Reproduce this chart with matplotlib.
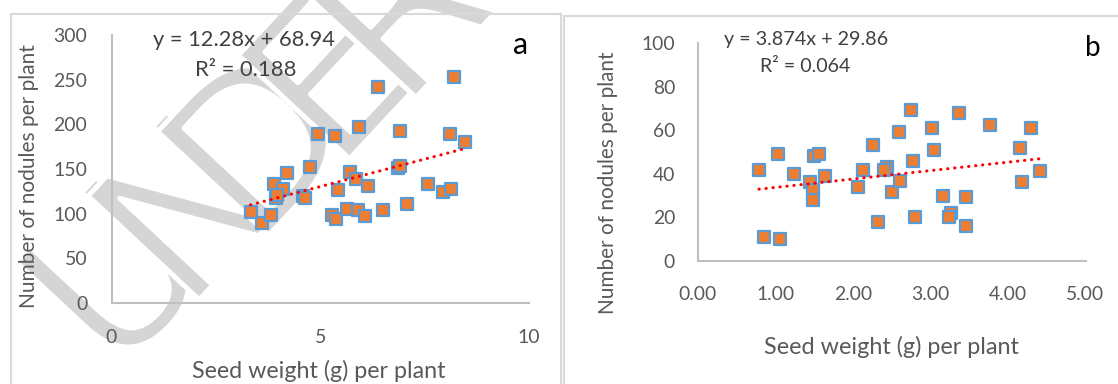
import matplotlib
matplotlib.use("Agg")
import matplotlib.pyplot as plt
from matplotlib.patches import Rectangle
import matplotlib.patheffects as pe
import numpy as np

# Panel a: seed weight vs nodules
a_seed = [8.20, 6.38, 4.94, 5.36, 5.92, 6.92, 8.10, 8.46, 4.21, 4.75, 3.90, 4.10,
          3.93, 4.59, 5.71, 5.86, 5.42, 6.15, 6.87, 7.57, 7.95, 8.12, 3.33, 3.61,
          3.82, 5.27, 5.38, 5.63, 5.90, 6.07, 6.51, 7.08, 6.90, 4.63, 3.96]
a_nod = [253, 242, 189, 187, 197, 193, 189, 180, 146, 152, 133, 128,
         118, 120, 147, 139, 127, 131, 151, 133, 124, 128, 102, 90,
         99, 99, 94, 105, 104, 97, 104, 111, 153, 117, 121]
a_slope, a_icept, a_r2 = 12.28, 68.94, 0.188

# Panel b: seed weight vs nodules
b_seed = [0.79, 1.03, 0.86, 1.06, 1.24, 1.50, 1.56, 1.45, 1.49, 1.49, 1.64, 2.13,
          2.07, 2.26, 2.33, 2.44, 2.40, 2.50, 2.61, 2.59, 2.77, 2.75, 2.80, 3.02,
          3.05, 3.16, 3.27, 3.24, 3.37, 3.46, 3.46, 3.77, 4.15, 4.18, 4.30, 4.41]
b_nod = [41.9, 49.2, 11.1, 10.2, 40.0, 48.3, 49.2, 36.3, 32.6, 28.0, 39.2, 41.9,
         34.1, 53.1, 18.0, 43.1, 41.9, 31.8, 36.9, 59.1, 46.1, 69.2, 20.0, 61.1,
         51.1, 29.9, 21.9, 20.0, 68.0, 29.3, 16.0, 62.3, 52.1, 36.2, 61.1, 41.1]
b_slope, b_icept, b_r2 = 3.874, 29.86, 0.064

a_xticks = [0, 5, 10]
a_yticks = [0, 50, 100, 150, 200, 250, 300]
b_xticks = [0, 1, 2, 3, 4, 5]
b_yticks = [0, 20, 40, 60, 80, 100]

FONT = "Lato"
TICK_C = "#595959"
AXIS_C = "#bfbfbf"
ORANGE = "#ED7D31"
BLUE = "#5B9BD5"

W, H = 1118, 384
fig = plt.figure(figsize=(W / 100, H / 100), dpi=100)
fig.patch.set_facecolor("white")
renderer = fig.canvas.get_renderer()


def px(x0, y0, x1, y1):
    """Axes rectangle from pixel corners (top-left origin)."""
    return [x0 / W, 1 - y1 / H, (x1 - x0) / W, (y1 - y0) / H]


def fit(txt, target, vertical=False):
    """Rescale a text so its extent spans `target` pixels."""
    bb = txt.get_window_extent(renderer=renderer)
    cur = bb.height if vertical else bb.width
    txt.set_fontsize(txt.get_fontsize() * target / cur)


def ftext(x, y, s, **kw):
    return fig.text(x / W, 1 - y / H, s, **kw)


# panel frames
fig.add_artist(Rectangle((11 / W, -0.05), 550 / W, 1.05 - 14 / H, transform=fig.transFigure,
                         fill=False, edgecolor="#d9d9d9", lw=1.5, zorder=-0.5))
fig.add_artist(Rectangle((564 / W, -0.05), 600 / W, 1.05 - 16 / H, transform=fig.transFigure,
                         fill=False, edgecolor="#d9d9d9", lw=1.5, zorder=-0.5))

# watermark, one letter at a time along a rising baseline; a white outline
# thins the glyph strokes into light bands
wm_letters = ["U", "N", "D", "E", "R"]
wm_x0, wm_y0, wm_dx, wm_dy = 125, 284, 71, -66
for i, ch in enumerate(wm_letters):
    ftext(wm_x0 + i * wm_dx, wm_y0 + i * wm_dy, ch, rotation=47,
          rotation_mode="anchor", ha="center", va="center", fontsize=150,
          family=["Liberation Sans Narrow", "DejaVu Sans"], color="#d5d5d5",
          zorder=-1,
          path_effects=[pe.Normal(),
                        pe.Stroke(linewidth=3.6, foreground="white",
                                  joinstyle="round")])


def panel(rect, xs, ys, slope, icept, r2, xlim, ylim, xticks, yticks, xfmt,
          xpad, ypad, tick_w, tag, tagpos, tagsize, eqpos, eq_w, r2pos, r2_w,
          xlabpos, xlab_w, ylabpos, ylab_w):
    ax = fig.add_axes(rect)
    ax.set_facecolor("none")
    ax.scatter(xs, ys, marker="s", s=80, facecolor=ORANGE, edgecolor=BLUE,
               linewidths=1.6, zorder=3, clip_on=False)
    tx = np.array([min(xs), max(xs)])
    ax.plot(tx, slope * tx + icept, color="red", lw=2.2,
            linestyle=(0, (0.1, 2.2)), dash_capstyle="round", zorder=4)
    ax.set_xlim(*xlim)
    ax.set_ylim(*ylim)
    ax.set_xticks(xticks)
    ax.set_yticks(yticks)
    ax.set_xticklabels([xfmt(v) for v in xticks])
    for s in ("top", "right"):
        ax.spines[s].set_visible(False)
    for s in ("left", "bottom"):
        ax.spines[s].set_color(AXIS_C)
        ax.spines[s].set_linewidth(1.5)
    ax.tick_params(axis="x", length=0, pad=xpad, labelsize=14, labelcolor=TICK_C)
    ax.tick_params(axis="y", length=0, pad=ypad, labelsize=14, labelcolor=TICK_C)
    for lab in ax.get_xticklabels() + ax.get_yticklabels():
        lab.set_family(FONT)
    fig.canvas.draw()
    top = ax.get_yticklabels()[-1]
    bb = top.get_window_extent(renderer=renderer)
    size = 14 * tick_w / bb.width
    ax.tick_params(axis="both", labelsize=size)

    eq = ftext(*eqpos, f"y = {slope}x + {icept}", ha="center", va="center",
               fontsize=14, family=FONT, color="#404040")
    fit(eq, eq_w)
    rr = ftext(*r2pos, f"R² = {r2}", ha="center", va="center",
               fontsize=14, family=FONT, color="#404040")
    fit(rr, r2_w)
    ftext(*tagpos, tag, ha="center", va="center", fontsize=tagsize,
          family=FONT, color="black")
    xl = ftext(*xlabpos, "Seed weight (g) per plant", ha="center", va="center",
               fontsize=14, family=FONT, color=TICK_C)
    fit(xl, xlab_w)
    yl = ftext(*ylabpos, "Number of nodules per plant", ha="center", va="center",
               rotation=90, fontsize=14, family=FONT, color=TICK_C)
    fit(yl, ylab_w, vertical=True)
    return ax


panel(px(111.5, 35, 529, 303), a_seed, a_nod, a_slope, a_icept, a_r2,
      (0, 10), (0, 300), a_xticks, a_yticks, lambda v: f"{v:g}",
      19, 17.5, 34, "a", (521, 45), 22, (244, 40), 182, (246, 70), 102,
      (319, 371), 254, (29, 176), 265)

panel(px(697.7, 43.5, 1085.5, 260.7), b_seed, b_nod, b_slope, b_icept, b_r2,
      (0, 5), (0, 100), b_xticks, b_yticks, lambda v: f"{v:.2f}",
      18.5, 16.3, 33.6, "b", (1093, 48), 20, (806, 40), 165, (805, 66), 91,
      (891, 347), 255, (608, 183), 263)

fig.savefig("out.png", dpi=100, facecolor="white")
